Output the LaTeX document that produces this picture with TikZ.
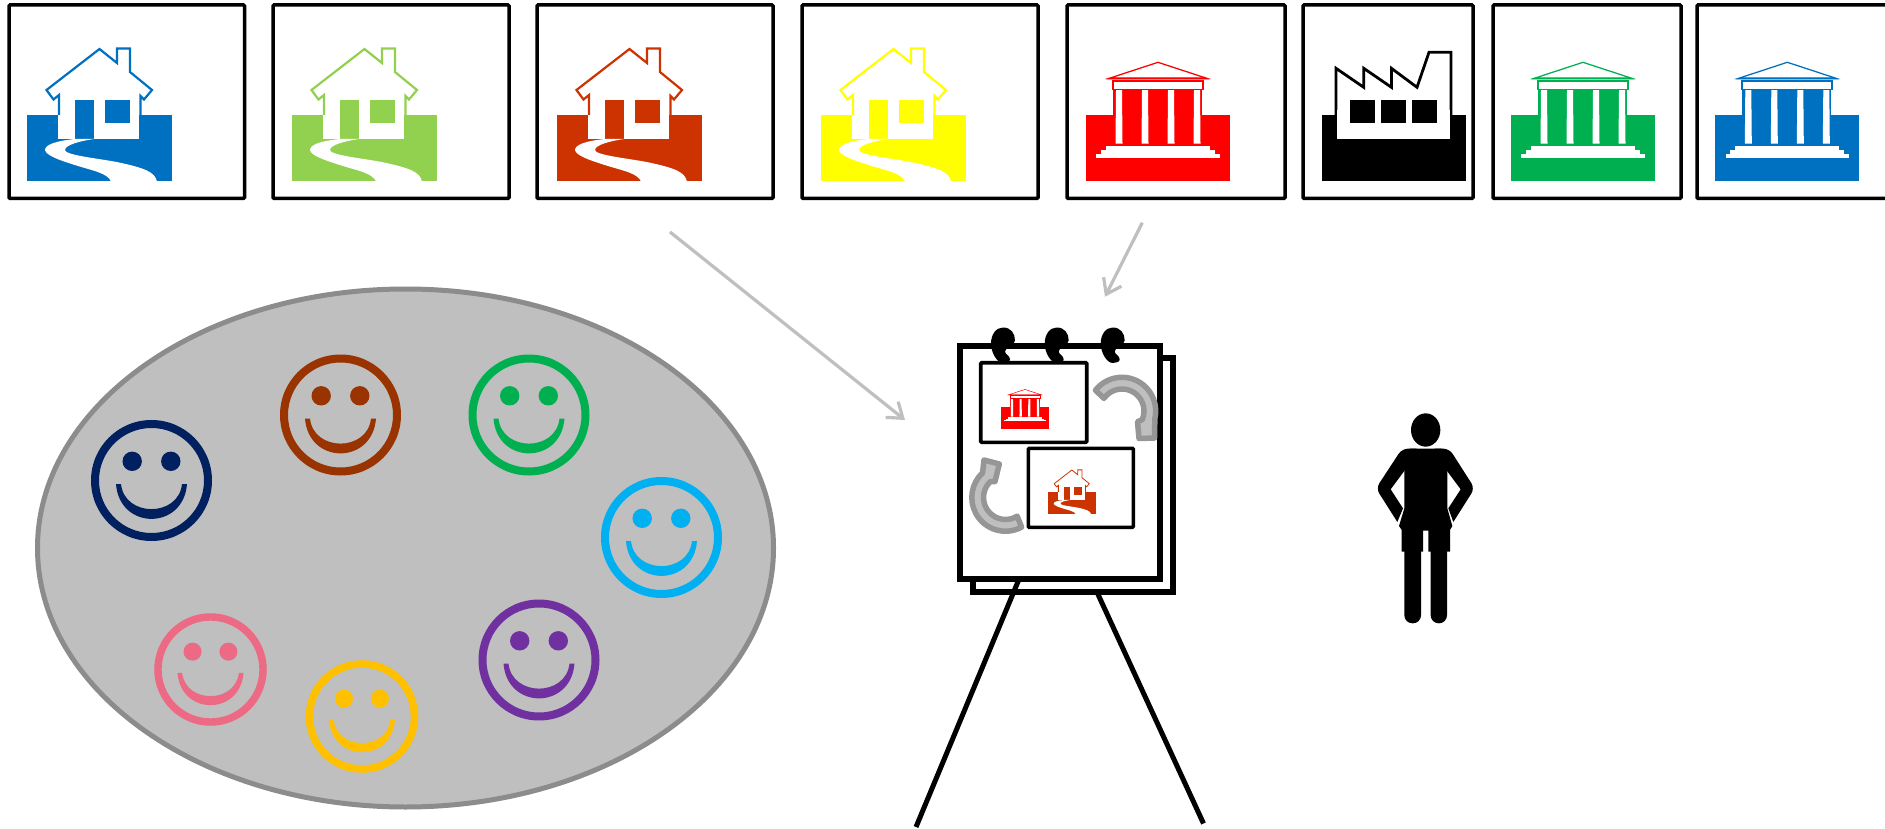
\documentclass[tikz,border=0pt]{standalone}
\usepackage{xcolor}
\usetikzlibrary{calc, positioning}
\usetikzlibrary{arrows.meta}

\definecolor{iconblue}{HTML}{0070C0}
\definecolor{iconlime}{HTML}{92D050}
\definecolor{iconrust}{HTML}{CC3300}
\definecolor{iconyellow}{HTML}{FFFF00}
\definecolor{iconred}{HTML}{FF0000}
\definecolor{icongreen}{HTML}{00B050}
\definecolor{ovalfill}{HTML}{BFBFBF}
\definecolor{ovalline}{HTML}{8C8C8C}
\definecolor{turnline}{HTML}{969696}
\definecolor{facebrown}{HTML}{993300}
\definecolor{facecyan}{HTML}{00B0F0}
\definecolor{facenavy}{HTML}{002060}
\definecolor{facepink}{HTML}{EC6A84}
\definecolor{faceamber}{HTML}{FFC000}
\definecolor{facepurple}{HTML}{7030A0}

\tikzset{
  iconbox/.style={draw=black, line width=3.5pt, rounded corners=1pt, fill=white},
  sheet/.style={draw=black, line width=5.7pt, fill=white},
  panel/.style={draw=black, line width=3.6pt, rounded corners=1pt, fill=white},
  easelleg/.style={draw=black, line width=5pt},
  thinarrow/.style={draw=ovalfill, line width=3.2pt, -{Straight Barb[length=14pt, width=20pt]}},
  turnarrow/.style={draw=turnline, fill=ovalfill, line width=5.5pt, line join=round},
  pics/houseicon/.style 2 args={code={
    \fill[#1] (27,115) rectangle (171.5,181.5);
    \fill[white] (58,90) rectangle (139,139);
    \filldraw[draw=#1, fill=white, line width=#2, line join=miter]
      (59,115) -- (59,95) -- (53.5,99.5) -- (46.5,90) -- (99.5,49) -- (117,63) -- (117,48.5)
      -- (130,48.5) -- (130,72) -- (152,90) -- (144,99.5) -- (140.5,96) -- (140.5,115);
    \fill[white] (60.5,115) rectangle (139,139);
    \fill[#1] (75,100) rectangle (94,139);
    \fill[#1] (105,100) rectangle (130,123.5);
    \fill[white] (75,139) .. controls (55,141) and (45,145) .. (45,150)
      .. controls (46,155) and (56,159.5) .. (83,167.5)
      .. controls (95,171) and (108,174) .. (111,181.5) -- (157,181.5)
      .. controls (155,172) and (145,168) .. (116.7,162)
      .. controls (95,158) and (65,155) .. (65,150)
      .. controls (65,145) and (80,141) .. (94,139) -- cycle;
  }},
  pics/bankicon/.style 2 args={code={
    \fill[#1] (27,115) rectangle (171,181.5);
    \fill[#1] (54,90) rectangle (143,146);
    \foreach \c in {60,86,112,138} {
      \fill[white] (\c-3,90) -- (\c+3,90) -- (\c+3.5,143.7) -- (\c-3.5,143.7) -- cycle;
    }
    \filldraw[draw=#1, fill=white, line width=#2] (53.7,81) rectangle (144,89.5);
    \filldraw[draw=#1, fill=white, line width=#2*.7] (50,78.4) -- (99,62.3) -- (148,78.4) -- cycle;
    \fill[#1] (47,79.5) -- (151,79.5) -- (146,77.5) -- (52,77.5) -- cycle;
    \fill[white] (47,145.7) rectangle (151,150);
    \fill[white] (42,150) rectangle (156,154);
    \fill[white] (37.3,154) rectangle (160.7,158.3);
  }},
  pics/factoryicon/.style={code={
    \fill[black] (27,115) rectangle (171.4,181.5);
    \filldraw[draw=black, fill=white, line width=2.8pt]
      (41,115) -- (41,68.3) -- (68.7,87.3) -- (68.7,68.3) -- (96.4,87.3) -- (96.4,68.3)
      -- (122,87.3) -- (134,52.3) -- (156,52.3) -- (156,115);
    \fill[white] (42.4,110) rectangle (154.7,139);
    \foreach \w in {54.7,85.7,117.4} {
      \fill[black] (\w,100) rectangle (\w+25,123.3);
    }
  }},
  pics/smiley/.style={code={
    \fill[#1, even odd rule] (0,0) circle (60.5) (0,0) circle (52.5);
    \fill[#1] (-19.3,-19.2) circle (9.7);
    \fill[#1] (19.3,-19.2) circle (9.7);
    \fill[#1] (-35.5,3.5) .. controls (-32,50) and (32,50) .. (35.5,3.5) -- (30.5,3.5)
      .. controls (27,37) and (-27,37) .. (-30.5,3.5) -- cycle;
  }},
  pics/ringhook/.style={code={
    \fill[black] (0,-16) .. controls (8,-16) and (12,-10) .. (12,-3)
      .. controls (12,2) and (2,3) .. (2,8) .. controls (2,11) and (7,12) .. (7,16)
      .. controls (7,18.5) and (3,19.5) .. (0,19.5) .. controls (-6,19.5) and (-12,9) .. (-12,0)
      .. controls (-12,-9) and (-7,-16) .. (0,-16) -- cycle;
  }},
}

\begin{document}
\begin{tikzpicture}[x=1pt, y=-1pt]
\useasboundingbox (0,0) rectangle (1885,829);

% top row
\foreach \xa/\xb in {9/244.5, 273/509, 537/773, 802/1038, 1067/1285, 1303/1473, 1493/1681, 1697/1900} {
  \draw[iconbox] (\xa,5) rectangle (\xb,198.5);
}
\pic at (0,0) {houseicon={iconblue}{2.2pt}};
\pic at (265,0) {houseicon={iconlime}{2.2pt}};
\pic at (530,0) {houseicon={iconrust}{2.2pt}};
\pic at (794,0) {houseicon={iconyellow}{2.2pt}};
\pic at (1059,0) {bankicon={iconred}{1.8pt}};
\pic at (1295,0) {factoryicon};
\pic at (1484,0) {bankicon={icongreen}{1.8pt}};
\pic at (1688.3,0) {bankicon={iconblue}{1.8pt}};

% arrows to the board
\coordinate (housefrom) at (670,232);
\coordinate (houseto) at (905,420);
\coordinate (bankfrom) at (1142.3,222.7);
\coordinate (bankto) at (1105,296.7);
\draw[thinarrow] (housefrom) -- (houseto);
\draw[thinarrow] (bankfrom) -- (bankto);

% crowd
\draw[draw=ovalline, fill=ovalfill, line width=5pt] (405.5,548) ellipse [x radius=368, y radius=259];
\foreach \x/\y/\s/\c in {151.5/480.5/1/facenavy, 340.5/415/1/facebrown, 529/415/1/icongreen,
    661.5/537.5/1/facecyan, 539/660/1/facepurple, 210.5/669.5/.93/facepink, 362/716.5/.93/faceamber} {
  \pic[scale=\s] at (\x,\y) {smiley=\c};
}

% easel
\coordinate (lega) at (1022,572);
\coordinate (legb) at (916,827);
\coordinate (legc) at (1096,590);
\coordinate (legd) at (1203.5,823.5);
\draw[easelleg] (legc) -- (legd);
\draw[sheet] (973,358) rectangle (1173,592);
\draw[easelleg] (lega) -- (legb);
\draw[sheet] (960,346) rectangle (1160,579);
\foreach \x in {1003,1056.7,1112.7} {
  \pic at (\x,343.5) {ringhook};
}
\draw[panel] (980.7,362.7) rectangle (1086.7,442.3);
\draw[panel] (1028.3,448.3) rectangle (1133.3,527.3);
\pic[scale=.333] at (992,368.7) {bankicon={iconred}{.7pt}};
\pic[scale=.333] at (1038.7,453.7) {houseicon={iconrust}{.8pt}};

% turning arrows
\begin{scope}[shift={(1122,411)}]
\draw[turnarrow] (218:33.7) arc[start angle=218, end angle=373, radius=33.7] -- (32.5,27) -- (17,27.5)
  -- (15.5,10.7) -- (23:22) arc[start angle=383, end angle=215, radius=22] -- cycle;
\end{scope}
\begin{scope}[shift={(1005.5,497.5)}]
\draw[turnarrow] (61.5:33.7) arc[start angle=61.5, end angle=227, radius=33.7] -- (-21.5,-37.5) -- (-6.2,-33.5)
  -- (-10.5,-16) -- (226:22) arc[start angle=226, end angle=58, radius=22] -- cycle;
\end{scope}

% person
\begin{scope}[shift={(1360,400)}, scale=.3333]
\fill[black] (197,90) ellipse [x radius=44, y radius=50];
\fill[black, rounded corners=8pt] (133,430) rectangle (183,670);
\fill[black, rounded corners=8pt] (212,430) rectangle (261,670);
\fill[black] (150,146) -- (245,146) -- (262,210) -- (262,325) -- (277,378) -- (270,390) -- (270,455) -- (205,455)
  -- (205,392) -- (189,392) -- (189,455) -- (125,455) -- (125,390) -- (117,378) -- (133,325) -- (133,210) -- cycle;
\fill[black] (170,146) [rounded corners=6pt] -- (126,146) -- (48,265) [sharp corners] -- (112,366) -- (129,325) -- (92,268) -- (135,210) -- (170,200) -- cycle;
\fill[black] (224,146) [rounded corners=6pt] -- (268,146) -- (344,265) [sharp corners] -- (280,366) -- (265,325) -- (302,268) -- (259,210) -- (224,200) -- cycle;
\end{scope}
\end{tikzpicture}
\end{document}
